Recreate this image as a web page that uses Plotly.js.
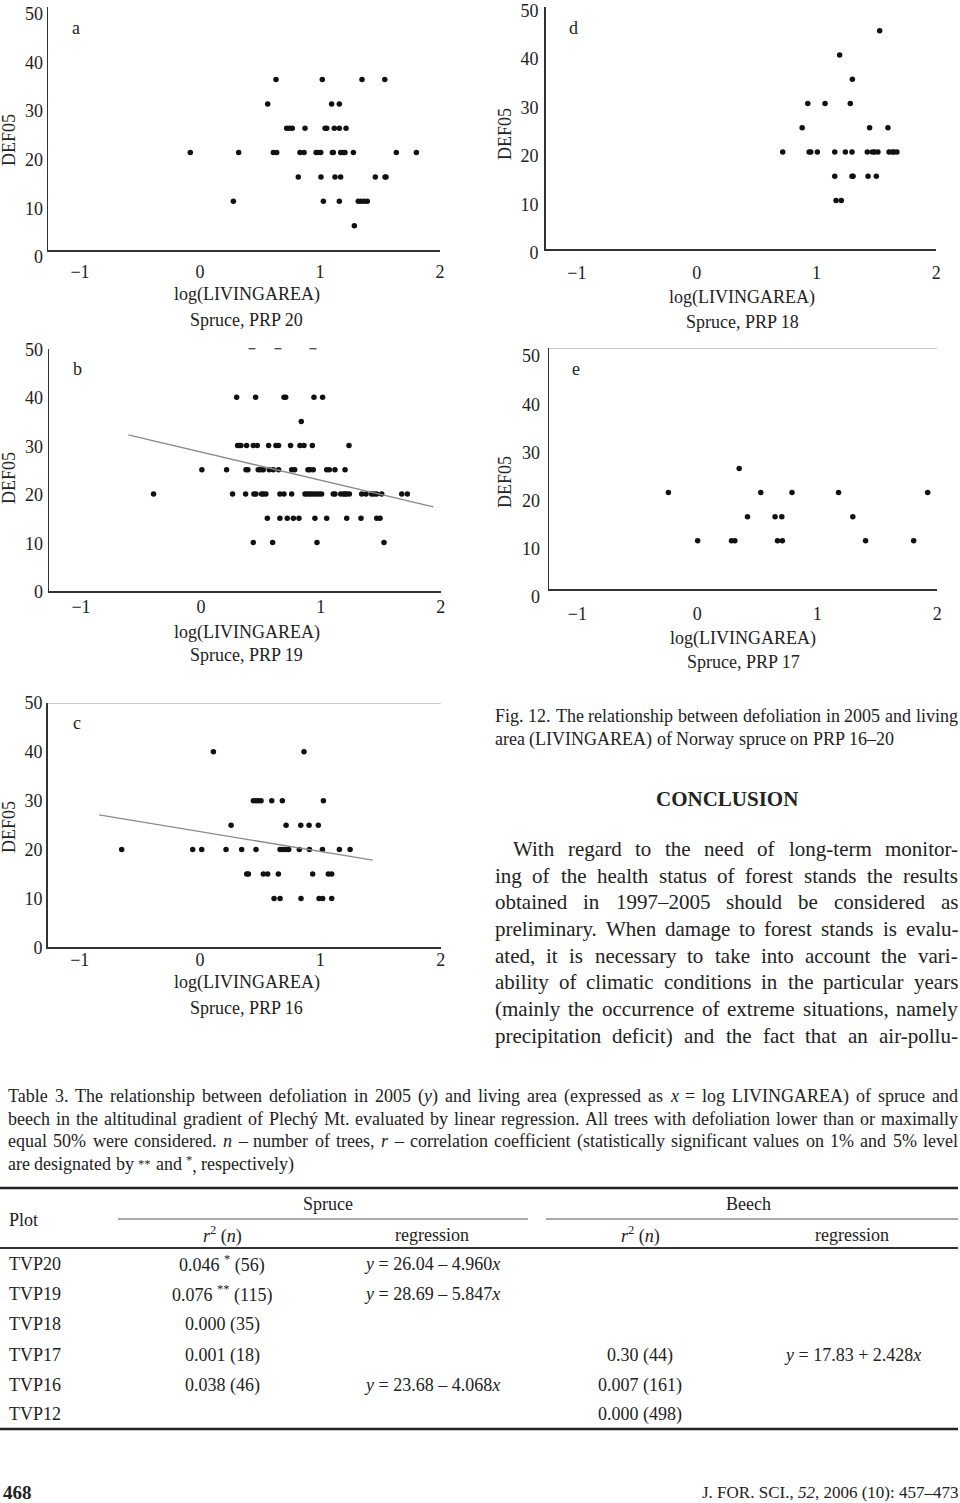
<!DOCTYPE html>
<html><head><meta charset="utf-8">
<script src="https://cdn.plot.ly/plotly-3.0.1.min.js"></script>
<style>html,body{margin:0;padding:0;background:#fff}#chart{width:960px;height:1503px}</style>
</head><body><div id="chart"></div>
<script>
// ---------------- DATA ----------------
// Panel a: Spruce, PRP 20
const prp20X = [0.633,1.019,1.350,1.540, 0.564,1.097,1.161,
  0.722,0.744,0.769,0.875,1.042,1.056,1.119,1.161,1.217,
  -0.081,0.322,0.611,0.639,0.833,0.867,0.967,0.986,1.006,1.103,1.111,1.172,1.194,1.208,1.278,1.636,1.803,
  0.819,1.008,1.125,1.172,1.461,1.542,1.550,
  0.278,1.028,1.161,1.319,1.342,1.367,1.394,
  1.286];
const prp20Y = [35,35,35,35, 30,30,30,
  25,25,25,25,25,25,25,25,25,
  20,20,20,20,20,20,20,20,20,20,20,20,20,20,20,20,20,
  15,15,15,15,15,15,15,
  10,10,10,10,10,10,10,
  5];
// Panel d: Spruce, PRP 18
const prp18X = [1.528, 1.194, 1.300, 0.928,1.072,1.283, 0.881,1.444,1.597,
  0.719,0.939,0.953,1.008,1.153,1.242,1.297,1.425,1.467,1.486,1.514,1.606,1.633,1.647,1.672,
  1.153,1.297,1.306,1.431,1.500,
  1.164,1.208];
const prp18Y = [45, 40, 35, 30,30,30, 25,25,25,
  20,20,20,20,20,20,20,20,20,20,20,20,20,20,20,
  15,15,15,15,15,
  10,10];
// Panel b: Spruce, PRP 19
const prp19X = [0.298,0.456,0.693,0.707,0.943,1.015,
  0.837,
  0.306,0.320,0.334,0.381,0.437,0.470,0.565,0.626,0.648,0.748,0.826,0.860,0.929,1.235,
  0.008,0.214,0.376,0.392,0.478,0.498,0.520,0.570,0.603,0.648,0.757,0.782,0.893,0.910,0.937,1.049,1.071,1.118,1.202,
  -0.395,0.264,0.373,0.442,0.459,0.506,0.520,0.542,0.659,0.693,0.757,0.868,0.882,0.904,0.923,0.943,0.965,0.987,1.007,1.104,1.118,1.166,1.188,1.202,1.216,1.238,1.341,1.377,1.424,1.444,1.466,1.508,1.675,1.722,
  0.554,0.659,0.720,0.771,0.818,0.951,1.049,1.216,1.335,1.466,1.494,
  0.437,0.598,0.968,1.527];
const prp19Y = [40,40,40,40,40,40,
  35,
  30,30,30,30,30,30,30,30,30,30,30,30,30,30,
  25,25,25,25,25,25,25,25,25,25,25,25,25,25,25,25,25,25,25,
  20,20,20,20,20,20,20,20,20,20,20,20,20,20,20,20,20,20,20,20,20,20,20,20,20,20,20,20,20,20,20,20,20,20,
  15,15,15,15,15,15,15,15,15,15,15,
  10,10,10,10];
// points of PRP 19 cut at the top edge (y = 50)
const prp19TopX = [0.426, 0.643, 0.935];
const prp19TopY = [50, 50, 50];
// Panel e: Spruce, PRP 17
const prp17X = [0.349, -0.241,0.529,0.789,1.177,1.920, 0.418,0.648,0.704,1.296,
  0.003,0.285,0.313,0.668,0.709,1.402,1.803];
const prp17Y = [25, 20,20,20,20,20, 15,15,15,15, 10,10,10,10,10,10,10];
// Panel c: Spruce, PRP 16
const prp16X = [0.111,0.864,
  0.443,0.465,0.485,0.507,0.596,0.684,1.025,
  0.258,0.715,0.837,0.906,0.983,
  -0.651,-0.061,0.014,0.216,0.346,0.465,0.665,0.687,0.712,0.737,0.825,0.909,1.017,1.158,1.247,
  0.388,0.402,0.526,0.562,0.651,0.936,1.066,1.094,
  0.615,0.665,0.839,0.989,1.019,1.094];
const prp16Y = [40,40,
  30,30,30,30,30,30,30,
  25,25,25,25,25,
  20,20,20,20,20,20,20,20,20,20,20,20,20,20,20,
  15,15,15,15,15,15,15,15,
  10,10,10,10,10,10];
// regression lines (PRP 19, PRP 16)
const regIntercept = [28.69, 23.68];
const regSlope = [-5.847, -4.068];
const regXStart = [-0.606, -0.839];
const regXEnd = [1.939, 1.435];

const panelLetters = ['a','d','b','e','c'];
const panelNames = ['Spruce, PRP 20','Spruce, PRP 18','Spruce, PRP 19','Spruce, PRP 17','Spruce, PRP 16'];
const xTickVals = [-1, 0, 1, 2];
const yTickVals = [0, 10, 20, 30, 40, 50];
const xAxisLabel = 'log(LIVINGAREA)';
const yAxisLabel = 'DEF05';

const figCaption = ['Fig. 12. The relationship between defoliation in 2005 and living',
  'area (LIVINGAREA) of Norway spruce on PRP 16–20'];
const conclusionTitle = 'CONCLUSION';
const conclusionLines = [
  'With regard to the need of long-term monitor-',
  'ing of the health status of forest stands the results',
  'obtained in 1997–2005 should be considered as',
  'preliminary. When damage to forest stands is evalu-',
  'ated, it is necessary to take into account the vari-',
  'ability of climatic conditions in the particular years',
  '(mainly the occurrence of extreme situations, namely',
  'precipitation deficit) and the fact that an air-pollu-'];
const tableCaption = [
  'Table 3. The relationship between defoliation in 2005 (<i>y</i>) and living area (expressed as <i>x</i> = log LIVINGAREA) of spruce and',
  'beech in the altitudinal gradient of Plechý Mt. evaluated by linear regression. All trees with defoliation lower than or maximally',
  'equal 50% were considered. <i>n</i> – number of trees, <i>r</i> – correlation coefficient (statistically significant values on 1% and 5% level',
  'are designated by <sup>**</sup> and <sup>*</sup>, respectively)'];
const tableGroups = ['Spruce', 'Beech'];
const tableHeader = ['<i>r</i><sup>2</sup> (<i>n</i>)', 'regression', '<i>r</i><sup>2</sup> (<i>n</i>)', 'regression'];
const tablePlots = ['TVP20','TVP19','TVP18','TVP17','TVP16','TVP12'];
const spruceR2 = ['0.046 <sup>*</sup> (56)','0.076 <sup>**</sup> (115)','0.000 (35)','0.001 (18)','0.038 (46)',''];
const spruceReg = ['<i>y</i> = 26.04 – 4.960<i>x</i>','<i>y</i> = 28.69 – 5.847<i>x</i>','','','<i>y</i> = 23.68 – 4.068<i>x</i>',''];
const beechR2 = ['','','','0.30 (44)','0.007 (161)','0.000 (498)'];
const beechReg = ['','','','<i>y</i> = 17.83 + 2.428<i>x</i>','',''];
const pageNumber = '468';
const journalRef = 'J. FOR. SCI., <i>52</i>, 2006 (10): 457–473';

// ---------------- LAYOUT GEOMETRY (pixels) ----------------
const W = 960, H = 1503;
const FAM = 'Liberation Serif';
const TXT = '#222';
const px = x => x / W, py = y => 1 - y / H;
const geom = [
  {x0:48,   x1:440,   y0:6.5,   y1:250,   xmin:-1.267, yShift:7, xStand:5,  yStand:0, lx:72,  ly:28,  tx:247, ty1:295, ty2:320, dx:9,   dy:140},
  {x0:545.7,x1:936.2, y0:6.5,   y1:249,   xmin:-1.26,  yShift:4, xStand:7,  yStand:2, lx:569, ly:28,  tx:742, ty1:297, ty2:322, dx:505, dy:134},
  {x0:49,   x1:440.7, y0:348.7, y1:591,   xmin:-1.267, yShift:1, xStand:-1, yStand:1, lx:73,  ly:369, tx:247, ty1:632, ty2:655, dx:9,   dy:478},
  {x0:549,  x1:937.3, y0:348,   y1:589,   xmin:-1.236, yShift:8, xStand:8,  yStand:4, lx:572, ly:369, tx:743, ty1:638, ty2:662, dx:505, dy:482},
  {x0:47.7, x1:440.7, y0:703,   y1:947.3, xmin:-1.266, yShift:0, xStand:-4, yStand:0, lx:73,  ly:723, tx:247, ty1:983, ty2:1008, dx:9,  dy:827}
];
const panelData = [[prp20X,prp20Y],[prp18X,prp18Y],[prp19X,prp19Y],[prp17X,prp17Y],[prp16X,prp16Y]];

const traces = [];
const layout = {
  width: W, height: H, margin: {l:0, r:0, t:0, b:0},
  paper_bgcolor: '#fff', plot_bgcolor: 'rgba(0,0,0,0)',
  showlegend: false, font: {family: FAM, size: 18, color: TXT},
  annotations: [], shapes: []
};
const ann = (x, y, text, o = {}) => Object.assign({
  xref:'paper', yref:'paper', x: px(x), y: py(y), text, showarrow:false,
  xanchor:'center', yanchor:'middle', borderpad:0, borderwidth:0,
  font:{family:FAM, size:18, color:TXT}
}, o);

geom.forEach((g, i) => {
  const k = i + 1, xa = 'xaxis' + (k === 1 ? '' : k), ya = 'yaxis' + (k === 1 ? '' : k);
  const xr = 'x' + (k === 1 ? '' : k), yr = 'y' + (k === 1 ? '' : k);
  layout[xa] = {
    domain: [px(g.x0), px(g.x1)], range: [g.xmin, 2], anchor: yr,
    showline: true, linecolor: '#333', linewidth: 1.5, showgrid: false, zeroline: false,
    tickmode: 'array', tickvals: xTickVals, ticks: '', ticklabelstandoff: g.xStand,
    ticklabeloverflow: 'allow',
    tickfont: {family: FAM, size: 18, color: TXT}, fixedrange: true
  };
  layout[ya] = {
    domain: [py(g.y1), py(g.y0)], range: [0, 50], anchor: xr,
    showline: true, linecolor: '#333', linewidth: 1.5, showgrid: false, zeroline: false,
    tickmode: 'array', tickvals: yTickVals, ticks: '', ticklabelshift: g.yShift, ticklabelstandoff: g.yStand,
    ticklabeloverflow: 'allow',
    tickfont: {family: FAM, size: 18, color: TXT}, fixedrange: true
  };
  traces.push({type:'scatter', mode:'markers', x: panelData[i][0], y: panelData[i][1],
    xaxis: xr, yaxis: yr, marker: {size: 5.5, color: '#111'}, hoverinfo:'skip'});
  layout.annotations.push(ann(g.lx, g.ly, panelLetters[i], {xanchor:'left'}));
  layout.annotations.push(ann(g.tx, g.ty1, xAxisLabel));
  layout.annotations.push(ann(g.tx, g.ty2, panelNames[i]));
  layout.annotations.push(ann(g.dx, g.dy, yAxisLabel, {textangle:-90}));
});
// clipped points at top of panel b
traces.push({type:'scatter', mode:'markers', x: prp19TopX, y: prp19TopY, xaxis:'x3', yaxis:'y3',
  cliponaxis:false, marker:{symbol:'line-ew', size:5, line:{width:1.3, color:'#444'}}, hoverinfo:'skip'});
// regression lines: panel b (PRP 19 -> axes 3), panel c (PRP 16 -> axes 5)
const regAxes = [['x3','y3'],['x5','y5']];
regIntercept.forEach((a, j) => {
  const xs = [regXStart[j], regXEnd[j]];
  traces.push({type:'scatter', mode:'lines', x: xs, y: xs.map(v => a + regSlope[j]*v),
    xaxis: regAxes[j][0], yaxis: regAxes[j][1], line:{color:'#8a8a8a', width:1.3}, hoverinfo:'skip'});
});
// top frame lines for panels e and c
[4, 5].forEach(k => {
  layout.shapes.push({type:'line', xref:'x'+k+' domain', yref:'y'+k, x0:0, x1:1, y0:50, y1:50,
    line:{color:'#9a9a9a', width:1}});
});

// ---------------- TEXT BLOCKS (justified by measuring words) ----------------
const cv = document.createElement('canvas').getContext('2d');
function segs(word){
  const out = []; const re = /<(i|sup)>(.*?)<\/\1>/g; let last = 0, m;
  while ((m = re.exec(word))) {
    if (m.index > last) out.push({t: word.slice(last, m.index)});
    out.push({t: m[2], it: m[1] === 'i', sup: m[1] === 'sup'}); last = re.lastIndex;
  }
  if (last < word.length) out.push({t: word.slice(last)});
  return out;
}
function wWidth(word, size, bold){
  let w = 0;
  for (const s of segs(word)) {
    const sz = s.sup ? size * 0.7 : size;
    cv.font = (s.it ? 'italic ' : '') + (bold ? 'bold ' : '') + sz + 'px "' + FAM + '"';
    w += cv.measureText(s.t).width;
  }
  return w;
}
function natural(line, size, bold){
  const words = line.split(' ');
  return words.reduce((s, w) => s + wWidth(w, size, bold), 0) + (words.length - 1) * wWidth(' ', size, bold);
}
function textBlock(lines, o){
  let size = o.maxSize;
  o.fits.forEach(([li, w]) => { size = Math.min(size, 20 * w / natural(lines[li], 20, o.bold)); });
  lines.forEach((line, i) => {
    const words = line.split(' ');
    const ws = words.map(w => wWidth(w, size, o.bold));
    const start = o.left + (i === 0 ? (o.indent || 0) : 0);
    const avail = o.right - start;
    const sum = ws.reduce((a, b) => a + b, 0);
    const gap = (o.justify[i] && words.length > 1) ? (avail - sum) / (words.length - 1) : wWidth(' ', size, o.bold);
    let x = start;
    words.forEach((w, j) => {
      layout.annotations.push(ann(x, o.ys[i], w, {xanchor:'left', font:{family:FAM, size, color:TXT}}));
      x += ws[j] + gap;
    });
  });
}
// figure caption
textBlock(figCaption, {left:495, right:958, ys:[716, 739], justify:[true, false], maxSize:18,
  fits:[[1, 415], [0, 463]]});
// conclusion
layout.annotations.push(ann(727, 799, '<b>' + conclusionTitle + '</b>', {font:{family:FAM, size:21, color:TXT}}));
textBlock(conclusionLines, {left:495, right:958, indent:18, ys:[849, 876, 902, 929, 956, 982, 1009, 1036],
  justify:[true,true,true,true,true,true,true,true], maxSize:21,
  fits: conclusionLines.map((l, i) => [i, i === 0 ? 445 : 463])});
// table caption
textBlock(tableCaption, {left:8, right:958, ys:[1096, 1119, 1141, 1164], justify:[true,true,true,false], maxSize:18,
  fits:[[3, 292], [0, 950], [1, 950], [2, 950]]});

// ---------------- TABLE ----------------
const TS = 18;
const colX = [222, 432, 640, 852];
const rowY = [1264, 1294, 1324, 1355, 1385, 1414];
layout.annotations.push(ann(9, 1220, 'Plot', {xanchor:'left', font:{family:FAM, size:TS, color:TXT}}));
layout.annotations.push(ann(328, 1204, tableGroups[0], {font:{family:FAM, size:TS, color:TXT}}));
layout.annotations.push(ann(748, 1204, tableGroups[1], {font:{family:FAM, size:TS, color:TXT}}));
tableHeader.forEach((h, j) => layout.annotations.push(ann(colX[j], 1235, h, {font:{family:FAM, size:TS, color:TXT}})));
tablePlots.forEach((p, r) => {
  layout.annotations.push(ann(9, rowY[r], p, {xanchor:'left', font:{family:FAM, size:TS, color:TXT}}));
  [spruceR2[r], spruceReg[r], beechR2[r], beechReg[r]].forEach((c, j) => {
    if (c) layout.annotations.push(ann(colX[j], rowY[r], c, {font:{family:FAM, size:TS, color:TXT}}));
  });
});
const hline = (x0, x1, y, w, c) => layout.shapes.push({type:'line', xref:'paper', yref:'paper',
  x0: px(x0), x1: px(x1), y0: py(y), y1: py(y), line:{color:c, width:w}});
hline(0, 958, 1188, 2.5, '#222');
hline(118, 528, 1219, 1, '#555');
hline(546, 958, 1219, 1, '#555');
hline(0, 958, 1248, 2, '#333');
hline(0, 958, 1429, 2.5, '#222');

// footer
layout.annotations.push(ann(3, 1492, '<b>' + pageNumber + '</b>', {xanchor:'left', font:{family:FAM, size:19, color:TXT}}));
layout.annotations.push(ann(958, 1492, journalRef, {xanchor:'right', font:{family:FAM, size:17, color:TXT}}));

Plotly.newPlot('chart', traces, layout, {staticPlot:true, displayModeBar:false});
</script>
</body></html>
